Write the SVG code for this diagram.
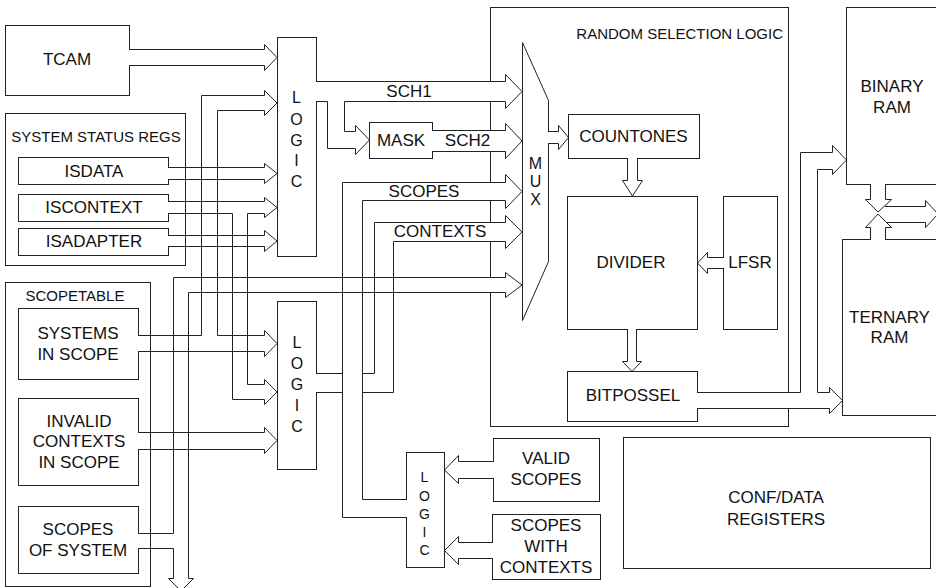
<svg xmlns="http://www.w3.org/2000/svg" width="936" height="588" viewBox="0 0 936 588">
<style>
.b{fill:#fff;stroke:#222;stroke-width:1}
.c{fill:none;stroke:#222;stroke-width:1;stroke-linejoin:miter}
.m{fill:#fff;stroke:none}
text{font-family:"Liberation Sans",Arial,sans-serif;fill:#111;text-anchor:middle}
.t{font-size:17px}
.s{font-size:15px}
.l{font-size:16px}
.l3{font-size:14px}
</style>
<rect width="936" height="588" fill="#fff"/>
<g id="rsl"><rect class="b" x="490.5" y="7.5" width="298" height="419"/><text class="s" x="783" y="38.5" style="text-anchor:end">RANDOM SELECTION LOGIC</text></g>
<g id="tcam"><rect class="b" x="5.5" y="25.5" width="124" height="70"/><text class="t" x="67" y="65">TCAM</text></g>
<g id="ssr"><rect class="b" x="5.5" y="113.5" width="180" height="152"/><text class="s" x="96" y="141.5">SYSTEM STATUS REGS</text></g>
<g id="isdata"><rect class="b" x="18.5" y="157.5" width="150" height="27"/><text class="t" x="94" y="177">ISDATA</text></g>
<g id="iscontext"><rect class="b" x="18.5" y="194.5" width="150" height="27"/><text class="t" x="94" y="213">ISCONTEXT</text></g>
<g id="isadapter"><rect class="b" x="18.5" y="228.5" width="150" height="27"/><text class="t" x="94" y="246.5">ISADAPTER</text></g>
<g id="scopetable"><rect class="b" x="5.5" y="282.5" width="145" height="304"/><text class="s" x="75" y="300.5">SCOPETABLE</text></g>
<g id="systems"><rect class="b" x="18.5" y="308.5" width="120" height="71"/><text class="t" x="78" y="339">SYSTEMS</text><text class="t" x="78" y="360">IN SCOPE</text></g>
<g id="invalid"><rect class="b" x="18.5" y="398.5" width="120" height="87"/><text class="t" x="79" y="426.5">INVALID</text><text class="t" x="79" y="447">CONTEXTS</text><text class="t" x="79" y="468">IN SCOPE</text></g>
<g id="scopesofsystem"><rect class="b" x="18.5" y="506.5" width="120" height="67"/><text class="t" x="78" y="535">SCOPES</text><text class="t" x="78" y="556">OF SYSTEM</text></g>
<g id="logic1"><rect class="b" x="277.5" y="37.5" width="39" height="219"/><text class="l" x="296.5" y="102.5">L</text><text class="l" x="296.5" y="124.5">O</text><text class="l" x="296.5" y="145.5">G</text><text class="l" x="296.5" y="166">I</text><text class="l" x="296.5" y="187">C</text></g>
<g id="logic2"><rect class="b" x="277.5" y="301.5" width="39" height="168"/><text class="l" x="297" y="348">L</text><text class="l" x="297" y="369">O</text><text class="l" x="297" y="390">G</text><text class="l" x="297" y="411">I</text><text class="l" x="297" y="432">C</text></g>
<g id="logic3"><rect class="b" x="406.5" y="452.5" width="38" height="115"/><text class="l3" x="424.5" y="482">L</text><text class="l3" x="424.5" y="500.5">O</text><text class="l3" x="424.5" y="519">G</text><text class="l3" x="424.5" y="537">I</text><text class="l3" x="424.5" y="555">C</text></g>
<g id="mask"><rect class="b" x="369.5" y="122.5" width="63" height="36"/><text class="t" x="401" y="146">MASK</text></g>
<g id="mux"><polygon class="b" points="522.5,42.5 548.5,100.5 548.5,261.5 522.5,320.5"/><text class="l" x="535.5" y="169">M</text><text class="l" x="535.5" y="187">U</text><text class="l" x="535.5" y="205">X</text></g>
<g id="countones"><rect class="b" x="568.5" y="114.5" width="131" height="44"/><text class="t" x="633.5" y="141.5">COUNTONES</text></g>
<g id="divider"><rect class="b" x="567.5" y="196.5" width="130" height="133"/><text class="t" x="631" y="268">DIVIDER</text></g>
<g id="lfsr"><rect class="b" x="723.5" y="196.5" width="54" height="133"/><text class="t" x="750" y="268">LFSR</text></g>
<g id="bitpossel"><rect class="b" x="567.5" y="371.5" width="130" height="50"/><text class="t" x="633" y="400.5">BITPOSSEL</text></g>
<g id="binaryram"><rect class="b" x="846.5" y="7.5" width="100" height="177"/><text class="t" x="892" y="91.5">BINARY</text><text class="t" x="892" y="112.5">RAM</text></g>
<g id="ternaryram"><rect class="b" x="842.5" y="239.5" width="104" height="176"/><text class="t" x="889.5" y="322.5">TERNARY</text><text class="t" x="889.5" y="343">RAM</text></g>
<g id="validscopes"><rect class="b" x="493.5" y="438.5" width="106" height="63"/><text class="t" x="546" y="464">VALID</text><text class="t" x="546" y="485">SCOPES</text></g>
<g id="scopeswithcontexts"><rect class="b" x="492.5" y="514.5" width="108" height="65"/><text class="t" x="546" y="530.5">SCOPES</text><text class="t" x="546" y="551.5">WITH</text><text class="t" x="546" y="573">CONTEXTS</text></g>
<g id="confdata"><rect class="b" x="623.5" y="437.5" width="307" height="131"/><text class="t" x="776" y="503">CONF/DATA</text><text class="t" x="776" y="525">REGISTERS</text></g>
<g id="connectors">
<rect class="m" x="128" y="50" width="4" height="15"/>
<rect class="m" x="167" y="168" width="4" height="11"/>
<rect class="m" x="167" y="202" width="4" height="11"/>
<rect class="m" x="167" y="236" width="4" height="10"/>
<rect class="m" x="137" y="336" width="4" height="15"/>
<rect class="m" x="137" y="433" width="4" height="16"/>
<rect class="m" x="137" y="534" width="4" height="14"/>
<rect class="m" x="315" y="82" width="4" height="19"/>
<rect class="m" x="315" y="374" width="4" height="18"/>
<rect class="m" x="404" y="500" width="4" height="17"/>
<rect class="m" x="431" y="131" width="4" height="20"/>
<rect class="m" x="489" y="82" width="3" height="19"/>
<rect class="m" x="489" y="131" width="3" height="20"/>
<rect class="m" x="489" y="183" width="3" height="17"/>
<rect class="m" x="489" y="223" width="3" height="18"/>
<rect class="m" x="489" y="278" width="3" height="14"/>
<rect class="m" x="787" y="393" width="3" height="15"/>
<rect class="m" x="547" y="132" width="3" height="11"/>
<rect class="m" x="628" y="157" width="9" height="3"/>
<rect class="m" x="628" y="328" width="8" height="3"/>
<rect class="m" x="722" y="258" width="3" height="10"/>
<rect class="m" x="696" y="393" width="3" height="15"/>
<rect class="m" x="871" y="183" width="14" height="3"/>
<rect class="m" x="871" y="238" width="14" height="3"/>
<rect class="m" x="492" y="462" width="3" height="16"/>
<rect class="m" x="491" y="543" width="3" height="15"/>
<path class="c" d="M130,49.5 H264.5 V44.5 L277,57.5 L264.5,70.5 V65.5 H130"/>
<path class="c" d="M169,167.5 H264.5 V163.5 L277,173.5 L264.5,183.5 V179.5 H169"/>
<path class="c" d="M169,201.5 H264.5 V197.5 L277,207.5 L264.5,217.5 V213.5 H247.5 V384.5 H264.5 V379.5 L277,392 L264.5,404.5 V399.5 H232.5 V213.5 H169"/>
<path class="c" d="M169,235.5 H264.5 V230.5 L277,241 L264.5,251.5 V246.5 H169"/>
<path class="c" d="M139,335.5 H201.5 V95.5 H264.5 V90.5 L277,103 L264.5,115.5 V110.5 H217.5 V335.5 H264.5 V330.5 L277,343.5 L264.5,356.5 V351.5 H139"/>
<path class="c" d="M139,432.5 H264.5 V427.5 L277,440.5 L264.5,453.5 V449.5 H139"/>
<path class="c" d="M139,533.5 H173.5 V277.5 H505.5 V272.5 L522,285 L505.5,297.5 V292.5 H188.5 V578.5 H193.5 L181,591 L168.5,578.5 H173.5 V548.5 H139"/>
<path class="c" d="M316.5,81.5 H505.5 V74.5 L522,91.5 L505.5,108.5 V101.5 H344.5 V131.5 H355.5 V125.5 L369.5,140 L355.5,154.5 V148.5 H327.5 V101.5 H316.5"/>
<path class="c" d="M432.5,130.5 H505.5 V123.5 L522,141 L505.5,158.5 V151.5 H432.5"/>
<path class="c" d="M316.5,373.5 H374.5 V222.5 H505.5 V215.5 L522,232 L505.5,248.5 V241.5 H393.5 V392.5 H316.5"/>
<rect class="m" x="343" y="372" width="19" height="22"/>
<path class="c" d="M406.5,517.5 H342.5 V182.5 H505.5 V174.5 L522,191.5 L505.5,208.5 V200.5 H362.5 V499.5 H406.5"/>
<path class="c" d="M548.5,131.5 H558.5 V125.5 L568.5,137.5 L558.5,149.5 V143.5 H548.5"/>
<path class="c" d="M627.5,158.5 V180.5 H622.5 L632.5,196 L642.5,180.5 H637.5 V158.5"/>
<path class="c" d="M723.5,257.5 H707.5 V252.5 L697.5,263 L707.5,273.5 V268.5 H723.5"/>
<path class="c" d="M627.5,329.5 V361.5 H622.5 L632,371.5 L641.5,361.5 H636.5 V329.5"/>
<path class="c" d="M697.5,392.5 H800.5 V152.5 H832.5 V145.5 L846.5,160 L832.5,174.5 V169.5 H817.5 V392.5 H829.5 V387.5 L842.5,400.5 L829.5,413.5 V408.5 H697.5"/>
<path class="c" d="M870.5,184.5 V199.5 H865.5 L878,212 L891.5,199.5 H885.5 V184.5"/>
<path class="c" d="M870.5,239.5 V227.5 H865.5 L878,214 L891.5,227.5 H885.5 V239.5"/>
<path class="c" d="M885,206.5 H925.5 V200.5 L938,214 L925.5,227.5 V222.5 H886"/>
<path class="c" d="M493.5,461.5 H458.5 V455.5 L444.5,470 L458.5,483.5 V478.5 H493.5"/>
<path class="c" d="M492.5,542.5 H458.5 V536.5 L444.5,550.5 L458.5,564.5 V558.5 H492.5"/>
</g>
<g id="labels">
<text class="t" x="409" y="96.5">SCH1</text>
<text class="t" x="467.5" y="146">SCH2</text>
<text class="t" x="424" y="196.5">SCOPES</text>
<text class="t" x="440" y="237">CONTEXTS</text>
</g>
</svg>
